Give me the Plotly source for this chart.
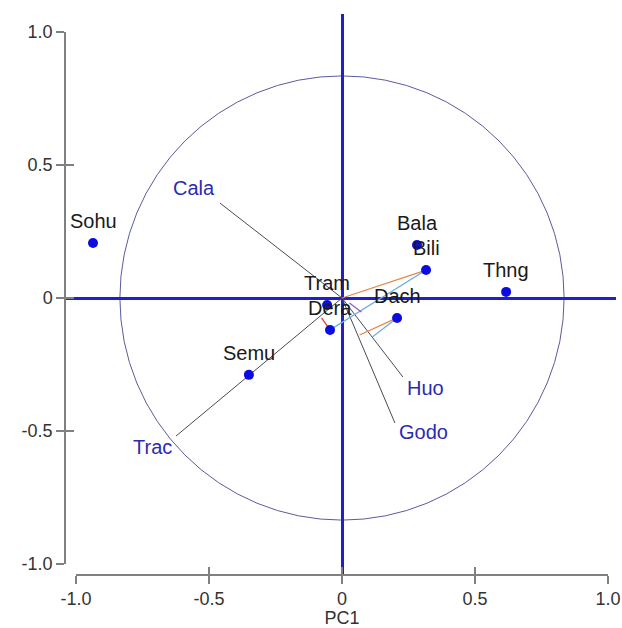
import plotly.graph_objects as go

# ---------------- data ----------------
samples = ["Sohu", "Bala", "Bili", "Thng", "Dach", "Tram", "Dera", "Semu"]
sample_x = [-0.936, 0.282, 0.316, 0.617, 0.207, -0.056, -0.045, -0.350]
sample_y = [0.207, 0.199, 0.105, 0.023, -0.075, -0.026, -0.120, -0.289]

variables = ["Cala", "Trac", "Huo", "Godo"]
var_x = [-0.459, -0.624, 0.229, 0.199]
var_y = [0.357, -0.519, -0.297, -0.470]

# short connecting segments near the origin
link_x0 = [0.0, -0.045, 0.066, 0.114, -0.077, 0.028]
link_y0 = [0.0, -0.120, -0.139, -0.147, -0.075, -0.019]
link_x1 = [0.316, 0.316, 0.207, 0.207, -0.045, 0.073]
link_y1 = [0.105, 0.105, -0.075, -0.075, -0.120, -0.053]
link_colors = ["#e0884a", "#72aee0", "#e0884a", "#72aee0", "#e03a3a", "#9a58c8"]

circle_radius = 0.835

x_tickvals = [-1.0, -0.5, 0.0, 0.5, 1.0]
x_ticktext = ["-1.0", "-0.5", "0", "0.5", "1.0"]
y_tickvals = [-1.0, -0.5, 0.0, 0.5, 1.0]
y_ticktext = ["-1.0", "-0.5", "0", "0.5", "1.0"]
x_title = "PC1"

# ---------------- layout geometry (pixels) ----------------
W, H = 622, 628
OX, OY, S = 342, 298, 266          # pixel origin and pixels per unit
main_xr = [-1.04, 1.03]
main_yr = [-1.04, 1.068]

def fx(p):
    return p / W

def fy(p):
    return 1 - p / H

main_xdom = [fx(OX + S * main_xr[0]), fx(OX + S * main_xr[1])]
main_ydom = [fy(OY - S * main_yr[0]), fy(OY - S * main_yr[1])]
ax_xdom = [fx(OX - S), fx(OX + S)]
ax_ydom = [fy(OY + S), fy(OY - S)]
xaxis_pos = fy(575)
yaxis_pos = fx(65)

FONT = "Liberation Sans, Arial, sans-serif"
AXIS_GRAY = "#808080"
BLUE_LINE = "#1f1fcc"
VEC_GRAY = "#4a4a5a"
VAR_BLUE = "#2b2bb0"
TEXT_DARK = "#1a1a1a"

fig = go.Figure()

# variable vectors
for vx, vy in zip(var_x, var_y):
    fig.add_trace(go.Scatter(x=[0, vx], y=[0, vy], mode="lines",
                             line=dict(color=VEC_GRAY, width=1),
                             hoverinfo="skip", showlegend=False))

# connecting segments
for a, b, c, d, col in zip(link_x0, link_y0, link_x1, link_y1, link_colors):
    fig.add_trace(go.Scatter(x=[a, c], y=[b, d], mode="lines",
                             line=dict(color=col, width=1.3),
                             hoverinfo="skip", showlegend=False))

# sample points
fig.add_trace(go.Scatter(x=sample_x, y=sample_y, mode="markers",
                         marker=dict(color="#0c0ce0", size=10, line=dict(width=0)),
                         text=samples, hoverinfo="text", showlegend=False))

# dummy traces to activate the visible axes
fig.add_trace(go.Scatter(x=[None], y=[None], xaxis="x2", yaxis="y2",
                         showlegend=False, hoverinfo="skip"))
fig.add_trace(go.Scatter(x=[None], y=[None], xaxis="x3", yaxis="y3",
                         showlegend=False, hoverinfo="skip"))

# correlation circle
fig.add_shape(type="circle", xref="x", yref="y",
              x0=-circle_radius, y0=-circle_radius,
              x1=circle_radius, y1=circle_radius,
              line=dict(color="#5a5aa0", width=1), layer="below")

# sample labels
for name, sx, sy in zip(samples, sample_x, sample_y):
    fig.add_annotation(x=sx, y=sy, text=name, showarrow=False,
                       yshift=22, xanchor="center", yanchor="middle",
                       font=dict(family=FONT, size=20, color=TEXT_DARK))

# variable labels
var_shift = {"Cala": (-26, 15), "Trac": (-24, -11), "Huo": (23, -11), "Godo": (29, -9)}
for name, vx, vy in zip(variables, var_x, var_y):
    dx, dy = var_shift[name]
    fig.add_annotation(x=vx, y=vy, text=name, showarrow=False,
                       xshift=dx, yshift=dy, xanchor="center", yanchor="middle",
                       font=dict(family=FONT, size=20, color=VAR_BLUE))

tickfont = dict(family=FONT, size=18, color="#333333")

fig.update_layout(
    width=W, height=H,
    margin=dict(l=0, r=0, t=0, b=0, autoexpand=False),
    paper_bgcolor="white", plot_bgcolor="rgba(0,0,0,0)",
    font=dict(family=FONT),
    xaxis=dict(domain=main_xdom, range=main_xr, showgrid=False,
               zeroline=True, zerolinecolor=BLUE_LINE, zerolinewidth=3,
               showline=False, ticks="", showticklabels=False, fixedrange=True),
    yaxis=dict(domain=main_ydom, range=main_yr, showgrid=False,
               zeroline=True, zerolinecolor=BLUE_LINE, zerolinewidth=3,
               showline=False, ticks="", showticklabels=False, fixedrange=True),
    xaxis2=dict(domain=ax_xdom, range=[-1, 1], anchor="free", position=xaxis_pos,
                showgrid=False, zeroline=False, showline=True,
                linecolor=AXIS_GRAY, linewidth=1.5,
                ticks="outside", ticklen=8, tickwidth=1.5, tickcolor=AXIS_GRAY,
                tickvals=x_tickvals, ticktext=x_ticktext, tickfont=tickfont,
                ticklabelstandoff=0,
                title=dict(text=x_title, font=dict(family=FONT, size=18, color="#333333"),
                           standoff=8),
                automargin=False, fixedrange=True),
    yaxis2=dict(domain=ax_ydom, range=[-1, 1], anchor="free", position=yaxis_pos,
                showgrid=False, zeroline=False, showline=True,
                linecolor=AXIS_GRAY, linewidth=1.5,
                ticks="outside", ticklen=8, tickwidth=1.5, tickcolor=AXIS_GRAY,
                tickvals=y_tickvals, ticktext=y_ticktext, tickfont=tickfont,
                automargin=False, fixedrange=True),
    xaxis3=dict(overlaying="x2", range=[-1, 1], anchor="free", position=xaxis_pos,
                showgrid=False, zeroline=False, showline=False,
                ticks="inside", ticklen=8, tickwidth=1.5, tickcolor=AXIS_GRAY,
                tickvals=x_tickvals, showticklabels=False,
                automargin=False, fixedrange=True),
    yaxis3=dict(overlaying="y2", range=[-1, 1], anchor="free", position=yaxis_pos,
                showgrid=False, zeroline=False, showline=False,
                ticks="inside", ticklen=8, tickwidth=1.5, tickcolor=AXIS_GRAY,
                tickvals=y_tickvals, showticklabels=False,
                automargin=False, fixedrange=True),
)

fig.write_html(
    "out.html",
    config={"displayModeBar": False},
    post_script="document.body.style.margin='0px';document.body.style.overflow='hidden';",
)
